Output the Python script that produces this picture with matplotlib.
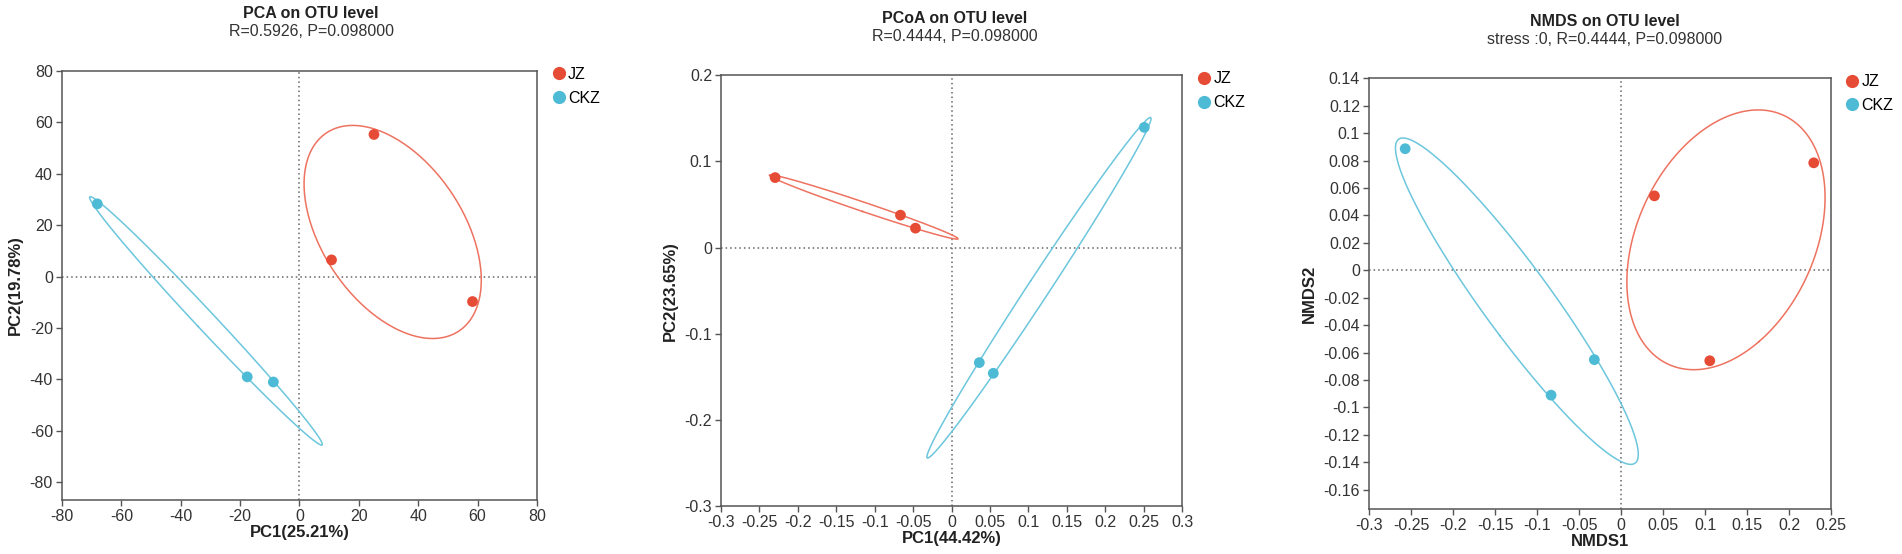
import matplotlib
matplotlib.use("Agg")
import matplotlib.pyplot as plt
from matplotlib.lines import Line2D
import numpy as np

plt.rcParams['font.family'] = ['Liberation Sans', 'DejaVu Sans']

groups = ['JZ', 'CKZ']
dot_colors = {'JZ': '#E64B35', 'CKZ': '#4DBBD5'}
ring_colors = {'JZ': '#EE7260', 'CKZ': '#6CC6DD'}

# PCA
pca_jz_x = [25.1, 10.8, 58.3]
pca_jz_y = [55.3, 6.5, -9.7]
pca_ckz_x = [-68.1, -17.6, -8.8]
pca_ckz_y = [28.3, -39.0, -41.0]

# PCoA
pcoa_jz_x = [-0.2296, -0.0665, -0.047]
pcoa_jz_y = [0.0813, 0.0377, 0.0226]
pcoa_ckz_x = [0.0361, 0.0543, 0.2508]
pcoa_ckz_y = [-0.1335, -0.1459, 0.1396]

# NMDS
nmds_jz_x = [0.0397, 0.2294, 0.1056]
nmds_jz_y = [0.0543, 0.0784, -0.066]
nmds_ckz_x = [-0.257, -0.0318, -0.0833]
nmds_ckz_y = [0.0887, -0.0652, -0.0911]

titles = ['PCA on OTU level', 'PCoA on OTU level', 'NMDS on OTU level']
subtitles = ['R=0.5926, P=0.098000', 'R=0.4444, P=0.098000',
             'stress :0, R=0.4444, P=0.098000']
xlabels = ['PC1(25.21%)', 'PC1(44.42%)', 'NMDS1']
ylabels = ['PC2(19.78%)', 'PC2(23.65%)', 'NMDS2']

pca_xticks = np.arange(-80, 81, 20)
pca_yticks = np.arange(-80, 81, 20)
pcoa_xticks = np.round(np.arange(-0.3, 0.301, 0.05), 2)
pcoa_yticks = np.round(np.arange(-0.3, 0.201, 0.1), 1)
nmds_xticks = np.round(np.arange(-0.3, 0.251, 0.05), 2)
nmds_yticks = np.round(np.arange(-0.16, 0.141, 0.02), 2)


def fmt(v):
    s = ('%.2f' % v).rstrip('0').rstrip('.')
    if s in ('-0', ''):
        s = '0'
    return s


def ellipse(x, y, scale=1.225):
    pts = np.column_stack([x, y])
    mu = pts.mean(axis=0)
    cov = np.cov(pts.T)
    vals, vecs = np.linalg.eigh(cov)
    t = np.linspace(0, 2 * np.pi, 300)
    circ = np.vstack([np.cos(t), np.sin(t)])
    e = vecs @ (np.sqrt(np.maximum(vals, 0))[:, None] * circ) * scale
    return mu[0] + e[0], mu[1] + e[1]


fig = plt.figure(figsize=(19.02, 5.54), dpi=100)

panels = [
    dict(pos=[0.0326, 0.0975, 0.2497, 0.7744], xlim=(-80, 80), ylim=(-86.9, 80),
         xt=pca_xticks, yt=pca_yticks,
         data={'JZ': (pca_jz_x, pca_jz_y), 'CKZ': (pca_ckz_x, pca_ckz_y)},
         tx=0.1636, ty=(0.9758, 0.9426), leg=(0.2886, 0.879)),
    dict(pos=[0.3791, 0.0866, 0.2424, 0.7774], xlim=(-0.3, 0.3), ylim=(-0.3, 0.2),
         xt=pcoa_xticks, yt=pcoa_yticks,
         data={'JZ': (pcoa_jz_x, pcoa_jz_y), 'CKZ': (pcoa_ckz_x, pcoa_ckz_y)},
         tx=0.502, ty=(0.9668, 0.935), leg=(0.6278, 0.871)),
    dict(pos=[0.7198, 0.0816, 0.2429, 0.7769], xlim=(-0.3, 0.25), ylim=(-0.174, 0.14),
         xt=nmds_xticks, yt=nmds_yticks,
         data={'JZ': (nmds_jz_x, nmds_jz_y), 'CKZ': (nmds_ckz_x, nmds_ckz_y)},
         tx=0.8437, ty=(0.9617, 0.9286), leg=(0.9685, 0.866)),
]

for i, p in enumerate(panels):
    ax = fig.add_axes(p['pos'])
    ax.set_xlim(*p['xlim'])
    ax.set_ylim(*p['ylim'])
    ax.axhline(0, color='#666666', lw=1.1, ls=(0, (1, 2)), zorder=1)
    ax.axvline(0, color='#666666', lw=1.1, ls=(0, (1, 2)), zorder=1)
    for g in groups:
        gx, gy = p['data'][g]
        ex, ey = ellipse(gx, gy)
        ax.plot(ex, ey, color=ring_colors[g], lw=1.1, zorder=2)
        ax.scatter(gx, gy, s=60, color=dot_colors[g], edgecolors='none', zorder=3)
    ax.set_xticks(p['xt'])
    ax.set_xticklabels([fmt(v) for v in p['xt']])
    ax.set_yticks(p['yt'])
    ax.set_yticklabels([fmt(v) for v in p['yt']])
    ax.tick_params(direction='out', length=4, width=1, color='#555555',
                   labelcolor='#333333', labelsize=11.5, pad=2.5)
    for sp in ax.spines.values():
        sp.set_color('#555555')
        sp.set_linewidth(1.1)
    ax.set_xlabel(xlabels[i], fontsize=12, fontweight='bold', labelpad=1, color='#222222')
    ax.set_ylabel(ylabels[i], fontsize=12, fontweight='bold', labelpad=5, color='#222222')

    fig.text(p['tx'], p['ty'][0], titles[i], ha='center', va='center',
             fontsize=11.5, fontweight='bold', color='#222222')
    fig.text(p['tx'], p['ty'][1], subtitles[i], ha='center', va='center',
             fontsize=11.5, color='#333333')

    handles = [Line2D([], [], ls='none', marker='o', markersize=9.5,
                      markerfacecolor=dot_colors[g], markeredgecolor='none')
               for g in groups]
    fig.legend(handles, groups, loc='upper left', bbox_to_anchor=p['leg'],
               frameon=False, fontsize=11.5, handletextpad=0.0, labelspacing=0.55,
               borderaxespad=0, borderpad=0, handlelength=1.2)

fig.savefig('out.png', dpi=100)
